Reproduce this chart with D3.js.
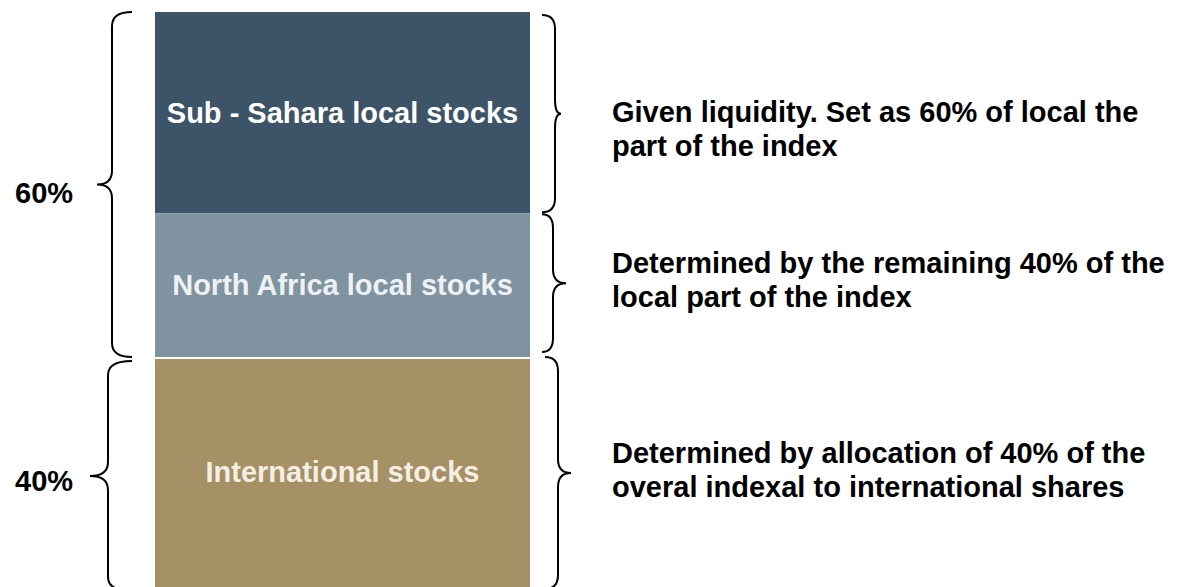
<!DOCTYPE html>
<meta charset="utf-8">
<head>
  <title>Index composition</title>
</head>

<style>
body { margin: 0; background: white; }
text {
  font-family: "Liberation Sans", Arial, Helvetica, sans-serif;
  font-weight: bold;
  font-size: 29px;
}
.brace {
  fill: none;
  stroke: black;
  stroke-width: 2px;
}
</style>

<body>
  <svg width="1183" height="587"></svg>

  <script src="https://cdnjs.cloudflare.com/ajax/libs/d3/7.8.5/d3.min.js"></script>
  <script>
// data
var segments = ["Sub - Sahara local stocks", "North Africa local stocks", "International stocks"];
var shares = [35, 25, 40];
var segmentColors = ["#3d5368", "#7f93a1", "#a69066"];
var labelColors = ["#ffffff", "#eef1f3", "#f4efe3"];
var groupLabels = ["60%", "40%"];
var groupMembers = [[0, 1], [2]];
var notes = [
  ["Given liquidity. Set as 60% of local the", "part of the index"],
  ["Determined by the remaining 40% of the", "local part of the index"],
  ["Determined by allocation of 40% of the", "overal indexal to international shares"]
];

var svg = d3.select("svg");

var stacked = d3.stack().keys(segments)([
  Object.fromEntries(segments.map(function(s, i) { return [s, shares[i]]; }))
]);

var y = d3.scaleLinear().domain([0, 100]).range([12, 587]);
var x = d3.scaleBand().domain(["index"]).range([155, 530]).padding(0);

// bar segments
svg.selectAll("rect")
  .data(stacked)
  .enter()
  .append("rect")
  .attr("x", x("index"))
  .attr("width", x.bandwidth())
  .attr("y", function(d, i) { return y(d[0][0]) + (i == 2 ? 2 : 0); })
  .attr("height", function(d, i) { return y(d[0][1]) - y(d[0][0]) - (i == 2 ? 2 : 0); })
  .attr("fill", function(d, i) { return segmentColors[i]; });

svg.selectAll("text.seg")
  .data(stacked)
  .enter()
  .append("text")
  .attr("class", "seg")
  .attr("x", x("index") + x.bandwidth() / 2)
  .attr("y", function(d) { return (y(d[0][0]) + y(d[0][1])) / 2 + 10; })
  .attr("text-anchor", "middle")
  .attr("fill", function(d, i) { return labelColors[i]; })
  .text(function(d) { return d.key; });

function brace(xEnd, xV, xTip, y0, y1, r) {
  var p = d3.path();
  var ym = (y0 + y1) / 2;
  p.moveTo(xEnd, y0);
  p.quadraticCurveTo(xV, y0, xV, y0 + r);
  p.lineTo(xV, ym - r);
  p.quadraticCurveTo(xV, ym, xTip, ym);
  p.quadraticCurveTo(xV, ym, xV, ym + r);
  p.lineTo(xV, y1 - r);
  p.quadraticCurveTo(xV, y1, xEnd, y1);
  return p.toString();
}

// left braces: one per group
var leftGeom = [[132, 112, 97], [132, 108, 90]];
groupMembers.forEach(function(m, g) {
  var y0 = y(stacked[m[0]][0][0]) + (g == 0 ? 0 : 4);
  var y1 = y(stacked[m[m.length - 1]][0][1]) + (g == 0 ? 0 : 4);
  svg.append("path")
    .attr("class", "brace")
    .attr("d", brace(leftGeom[g][0], leftGeom[g][1], leftGeom[g][2], y0, y1, 14));
  svg.append("text")
    .attr("x", 15)
    .attr("y", (y0 + y1) / 2 + 18 - g * 3)
    .attr("fill", "black")
    .text(groupLabels[g]);
});

// right braces: one per segment
var rightGeom = [[542, 555, 561], [542, 553, 566], [545, 558, 571]];
stacked.forEach(function(d, i) {
  var y0 = y(d[0][0]) + [3, 1, 0][i];
  var y1 = y(d[0][1]) - [1, 5, -2][i];
  svg.append("path")
    .attr("class", "brace")
    .attr("d", brace(rightGeom[i][0], rightGeom[i][1], rightGeom[i][2], y0, y1, 14));
});

var noteBase = [122, 273, 463];
notes.forEach(function(lines, i) {
  svg.selectAll(null)
    .data(lines)
    .enter()
    .append("text")
    .attr("x", 612)
    .attr("y", function(d, j) { return noteBase[i] + j * 34; })
    .attr("fill", "black")
    .text(function(d) { return d; });
});
  </script>
</body>
</html>
